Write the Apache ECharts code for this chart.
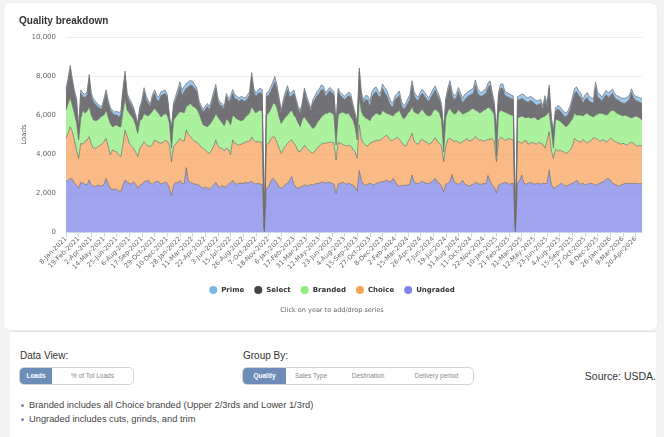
<!DOCTYPE html>
<html>
<head>
<meta charset="utf-8">
<script src="https://cdn.jsdelivr.net/npm/echarts@6/dist/echarts.min.js"></script>
<style>
  html, body { margin: 0; padding: 0; }
  body { width: 664px; height: 437px; background: #f3f3f3; position: relative; overflow: hidden; font-family: "Liberation Sans", Arial, sans-serif; }
  #card { position: absolute; left: 4px; top: 3px; width: 653px; height: 327px; background: #fff; border-radius: 6px; box-shadow: 0 0 2px rgba(0,0,0,0.08); }
  #lower { position: absolute; left: 10px; top: 331px; width: 646px; height: 106px; background: #fff; border-top: 1px solid #e3e3e3; }
  #chart { position: absolute; left: 0; top: 0; width: 664px; height: 330px; }
  .lbl { position: absolute; font-size: 10px; color: #333; }
  .grp { position: absolute; top: 367px; height: 16px; border: 1px solid #d5d5d5; border-radius: 5px; display: flex; overflow: hidden; background: #fff; }
  .grp span { font-size: 6.5px; color: #888; line-height: 16px; text-align: center; }
  .grp span.on { background: #6d8db8; color: #fff; font-weight: bold; }
  .note { position: absolute; left: 29px; font-size: 9.3px; color: #444; }
  .note:before { content: ""; position: absolute; left: -8px; top: 4px; width: 3px; height: 3px; border-radius: 50%; background: #6d8db8; }
</style>
</head>
<body>
<div id="card"></div>
<div id="lower"></div>
<div id="chart"></div>

<div class="lbl" style="left:20px; top:350px;">Data View:</div>
<div class="grp" style="left:19px; width:113px;">
  <span class="on" style="width:32px;">Loads</span>
  <span style="width:81px;">% of Tot Loads</span>
</div>
<div class="lbl" style="left:243px; top:350px;">Group By:</div>
<div class="grp" style="left:242px; width:230px;">
  <span class="on" style="width:43px;">Quality</span>
  <span style="width:50px;">Sales Type</span>
  <span style="width:64px;">Destination</span>
  <span style="width:73px;">Delivery period</span>
</div>
<div class="lbl" style="right:8px; top:370px; font-size:10.5px;">Source: USDA.</div>
<div class="note" style="top:400px;">Branded includes all Choice branded (Upper 2/3rds and Lower 1/3rd)</div>
<div class="note" style="top:414px;">Ungraded includes cuts, grinds, and trim</div>

<script>
// tick labels, one every 6 weeks
const xLabels = ['8-Jan-2021','19-Feb-2021','2-Apr-2021','14-May-2021','25-Jun-2021','6-Aug-2021','17-Sep-2021','29-Oct-2021','10-Dec-2021','28-Jan-2022','11-Mar-2022','22-Apr-2022','3-Jun-2022','15-Jul-2022','26-Aug-2022','7-Oct-2022','18-Nov-2022','6-Jan-2023','17-Feb-2023','31-Mar-2023','12-May-2023','23-Jun-2023','4-Aug-2023','15-Sep-2023','27-Oct-2023','8-Dec-2023','2-Feb-2024','15-Mar-2024','26-Apr-2024','7-Jun-2024','19-Jul-2024','31-Aug-2024','11-Oct-2024','22-Nov-2024','10-Jan-2025','21-Feb-2025','31-Mar-2025','12-May-2025','23-Jun-2025','4-Aug-2025','15-Sep-2025','27-Oct-2025','8-Dec-2025','26-Jan-2026','9-Mar-2026','20-Apr-2026'];

// weekly loads
const ungraded = [
  2580,2650,2750,2700,2500,2410,2240,2550,2500,2450,
  2420,2670,2420,2350,2330,2400,2380,2350,2450,2750,
  2450,2240,2180,2200,2180,2100,2070,2400,2670,2550,
  2500,2450,2580,2450,2240,2400,2450,2580,2600,2650,
  2500,2450,2550,2600,2580,2450,2500,2550,2500,2250,
  1850,2400,2550,2500,2650,2500,2450,3300,2600,2550,
  2500,2450,2450,2400,2300,2240,2300,2250,2200,2300,
  2400,2550,2350,2280,2380,2300,2350,2450,2500,2650,
  2500,2450,2500,2500,2480,2550,2500,2550,2600,2500,
  2450,2500,2450,2450,0,2250,2300,2600,2750,2650,
  2500,2300,2250,2300,2450,2500,2650,2840,2450,2300,
  2240,2300,2350,2400,2400,2350,2450,2400,2450,2500,
  2500,2550,2550,2500,2550,2550,2500,2450,1980,2450,
  2500,2550,2500,2450,2500,2450,2400,2300,2100,3150,
  2650,2450,2400,2450,2500,2450,2400,2500,2520,2550,
  2580,2600,2650,2600,2550,2750,2600,2400,2350,2380,
  2400,2380,2420,2450,2920,2550,2500,2480,2550,2600,
  2520,2500,2480,2550,2650,2750,2550,2500,2350,2050,
  2450,2500,2600,2950,2550,2500,2450,2500,2650,2450,
  2400,2350,2400,2450,2550,2500,2450,2450,2500,2450,
  2900,2600,2400,2300,2000,2400,2450,2500,2550,2500,
  2450,2480,2500,0,2500,2650,2920,2500,2450,2500,
  2550,2500,2450,2480,2500,2450,2500,2480,2500,3180,
  2450,2240,2300,2350,2450,2500,2400,2350,2400,2450,
  2500,2550,2670,2500,2450,2500,2400,2450,2480,2500,
  2450,2400,2450,2500,2550,2600,2700,2750,2650,2500,
  2450,2400,2350,2400,2450,2480,2500,2480,2500,2480,
  2500,2480,2470,2480
];
const choice = [
  2220,2450,2650,2450,2200,1790,1540,2000,2000,2200,
  2300,2220,2080,1940,1970,1950,2070,2150,2200,2050,
  1950,1710,2020,1950,1920,1850,1790,2100,2560,2350,
  2050,1950,1720,1650,1620,1900,2000,2050,1900,1750,
  1880,2050,2170,2050,2020,2100,2100,2150,2150,2200,
  1750,2000,1950,2150,2150,2200,2200,1930,2400,2350,
  2250,2200,2150,2100,2050,2050,1900,1850,1820,1900,
  2000,2170,2050,2020,1910,1850,1950,1800,1460,2070,
  2050,2050,1950,2000,2070,2050,2150,2100,2270,2200,
  2150,2150,2150,2150,150,2250,2250,2150,2140,2200,
  2100,2000,1780,1950,1950,2050,2000,1880,2100,2100,
  1910,1820,1950,2050,1900,1850,1650,1650,1700,1800,
  1900,1950,2000,2050,2030,2050,2120,2100,1710,2150,
  2050,1950,1950,1950,1950,1950,1850,1800,1680,2350,
  2100,2100,2050,1950,2050,2150,2250,2200,2180,2170,
  2220,2300,2320,2200,2150,1950,2200,2450,2400,2220,
  2050,2020,2180,2350,2140,2100,2050,2020,2150,2150,
  2130,2100,2020,2000,2050,2100,2100,2050,2050,1550,
  1950,2250,2200,1770,2100,2180,2150,2050,2000,2250,
  2400,2300,2300,2300,2350,2300,2250,2270,2150,2250,
  1850,2150,2400,2350,1600,2300,2400,2300,2150,2250,
  2350,2270,2200,150,2150,1950,1630,2150,2250,2000,
  2000,2100,2100,2020,2100,2100,2000,1820,2200,1960,
  1750,1540,1950,1800,1750,1650,1700,1680,1700,1750,
  1900,2250,2030,2150,2150,2250,2250,2100,2170,2200,
  2400,2400,2300,2150,2150,2150,1900,1950,2150,2250,
  2200,2200,2200,2100,2100,2020,1950,2070,2100,2070,
  1950,1920,1980,1920
];
const branded = [
  1450,1500,1500,1350,1380,1400,940,1280,1750,1450,
  1480,1540,1500,1450,1400,1400,1400,1450,1350,1450,
  1500,1620,1200,1300,1400,1450,1540,1700,1620,1350,
  1550,1550,1500,1400,1200,1400,1350,1450,1500,1550,
  1700,1700,1620,1550,1480,1350,1400,1380,1350,1150,
  700,1350,1400,1400,1370,1450,1450,1200,1500,1700,
  1700,1750,1700,1600,1450,1200,1250,1300,1480,1450,
  1430,1360,1500,1450,1310,1300,1500,1450,1540,1280,
  1350,1300,1300,1200,1200,1300,1350,1450,1560,1550,
  1500,1550,1650,1600,0,1500,1550,1550,1660,1750,
  1750,1600,1540,1500,1500,1450,1500,1530,1450,1450,
  1450,1280,1500,1450,1450,1400,1350,1260,1250,1300,
  1350,1400,1450,1530,1520,1550,1480,1450,770,1400,
  1550,1650,1650,1650,1650,1500,1500,1300,940,1400,
  1450,1400,1400,1400,1150,1300,1350,1400,1350,1280,
  1450,1250,1110,1250,1300,1250,1300,1300,1500,1400,
  1350,1500,1500,1400,1370,1500,1550,1550,1500,1550,
  1450,1400,1450,1450,1500,1450,1550,1550,1350,500,
  1500,1450,1540,1430,1400,1420,1700,1600,1400,1400,
  1350,1550,1600,1600,1350,1400,1400,1430,1600,1600,
  1650,1590,1400,1350,300,1400,1400,1400,1450,1350,
  1250,1250,1300,0,1200,1300,1400,1250,1150,1400,
  1300,1250,1350,1300,1150,1300,1400,1650,1350,1010,
  1100,520,1550,1600,1500,1450,1400,1370,1400,1450,
  1400,1300,1300,1350,1400,1200,1400,1550,1350,1250,
  1050,1200,1300,1450,1380,1300,1400,1350,1400,1500,
  1550,1500,1500,1500,1400,1500,1500,1350,1250,1350,
  1500,1500,1400,1350
];
const select = [
  950,1100,1450,1200,1020,1100,510,1280,690,800,
  820,1450,950,940,850,680,500,350,700,860,
  700,690,700,550,500,510,600,1000,1200,690,
  600,550,460,400,430,600,800,1120,800,650,
  350,700,770,600,620,1100,1050,1030,900,300,
  930,750,870,1050,1280,850,1100,940,950,940,
  1050,950,900,500,550,680,850,1030,760,950,
  1170,1290,800,750,850,850,1140,1000,1300,1110,
  950,1000,950,1100,1000,800,850,900,1530,950,
  850,900,900,850,0,950,900,900,900,1110,
  950,800,510,850,1100,1280,750,750,1110,850,
  700,680,700,1300,1050,900,750,1290,1400,1400,
  1350,1400,1280,870,1000,1100,1050,1000,940,1200,
  900,750,700,850,900,1000,650,600,850,1320,
  800,650,950,950,730,1000,1100,1100,950,900,
  1120,1000,920,650,450,480,700,750,750,500,
  500,500,500,600,1110,850,700,700,800,800,
  850,800,750,900,900,980,800,700,650,1000,
  800,1000,1200,850,750,800,900,750,550,700,
  750,800,750,750,1290,950,900,800,800,800,
  1000,1200,800,500,1160,900,1120,1170,850,850,
  850,850,800,0,900,900,900,900,850,750,
  900,850,700,700,800,750,370,850,350,1220,
  500,760,400,550,550,500,450,500,550,650,
  900,1010,1200,1000,900,650,750,800,700,700,
  700,1450,850,750,620,850,1050,850,800,860,
  700,700,700,650,650,600,750,900,1300,1000,
  800,800,800,850
];
const prime = [
  150,180,200,170,160,150,80,170,180,160,
  170,200,160,150,150,140,130,120,150,180,
  150,130,140,150,200,220,180,160,200,150,
  140,150,130,120,100,150,160,200,170,150,
  130,160,180,200,220,200,180,170,150,100,
  80,150,200,230,250,280,260,240,250,230,
  220,200,180,150,140,130,150,160,170,180,
  200,200,170,150,140,130,160,150,170,200,
  180,170,160,150,160,170,180,200,220,180,
  170,180,220,260,0,180,200,220,250,260,
  230,200,160,180,200,220,200,180,170,160,
  150,140,160,180,200,170,150,170,190,200,
  220,240,200,180,170,160,170,180,100,170,
  160,150,160,170,180,160,140,120,100,200,
  180,170,200,230,260,280,270,240,220,200,
  220,250,280,260,230,200,190,210,230,200,
  180,200,230,250,220,200,190,180,200,220,
  210,190,180,200,230,210,190,170,140,100,
  170,200,220,200,180,190,210,230,250,260,
  240,230,250,270,250,230,210,200,220,240,
  230,210,180,150,80,180,210,230,220,200,
  190,180,170,0,190,200,220,240,230,220,
  210,200,220,230,210,200,180,190,200,170,
  120,90,160,180,190,200,210,200,180,170,
  190,230,250,240,220,200,230,250,260,240,
  220,240,250,230,210,200,220,240,230,210,
  200,190,210,230,250,240,220,200,190,180,
  200,220,240,230
];

const weeks = ungraded.map((_, i) => (i % 6 === 0 ? xLabels[i / 6] : 'w' + i));

const chart = echarts.init(document.getElementById('chart'));

function areaSeries(name, data, color) {
  return {
    name: name,
    type: 'line',
    stack: 'loads',
    data: data,
    symbol: 'none',
    color: color,
    lineStyle: { width: 0.7, color: '#6b6b6b' },
    areaStyle: { color: color, opacity: 0.75 },
    emphasis: { disabled: true }
  };
}

chart.setOption({
  animation: false,
  title: {
    text: 'Quality breakdown',
    left: 14,
    top: 11,
    textStyle: { fontFamily: 'Liberation Sans', fontSize: 10, fontWeight: 'bold', color: '#333' }
  },
  legend: {
    data: ['Prime', 'Select', 'Branded', 'Choice', 'Ungraded'],
    left: 'center',
    top: 281,
    icon: 'circle',
    itemWidth: 8,
    itemHeight: 8,
    itemGap: 10,
    textStyle: { fontFamily: 'DejaVu Sans', fontSize: 7, fontWeight: 'bold', color: '#333', padding: [0, 0, 0, -1] }
  },
  graphic: [{
    type: 'text',
    left: 'center',
    top: 307,
    style: { text: 'Click on year to add/drop series', font: '6.5px "DejaVu Sans"', fill: '#666' }
  }],
  grid: { left: 66, right: 22, top: 37, bottom: 98 },
  xAxis: {
    type: 'category',
    boundaryGap: false,
    data: weeks,
    axisLine: { lineStyle: { color: '#ccd6eb' } },
    axisTick: { interval: 5, length: 5, lineStyle: { color: '#ccd6eb' } },
    axisLabel: { interval: 5, rotate: 45, margin: 6, fontFamily: 'DejaVu Sans', fontSize: 6.5, color: '#666' }
  },
  yAxis: {
    type: 'value',
    min: 0,
    max: 10000,
    interval: 2000,
    name: 'Loads',
    nameLocation: 'middle',
    nameGap: 38,
    nameMoveOverlap: false,
    nameTextStyle: { fontFamily: 'DejaVu Sans', fontSize: 7, color: '#666' },
    axisLabel: {
      margin: 10,
      fontFamily: 'DejaVu Sans',
      fontSize: 7,
      color: '#666',
      formatter: (v) => v.toLocaleString('en-US')
    },
    splitLine: { lineStyle: { color: '#ececec' } }
  },
  series: [
    areaSeries('Ungraded', ungraded, '#8085e9'),
    areaSeries('Choice', choice, '#f7a35c'),
    areaSeries('Branded', branded, '#90ed7d'),
    areaSeries('Select', select, '#434348'),
    areaSeries('Prime', prime, '#7cb5ec')
  ]
});
</script>
</body>
</html>
